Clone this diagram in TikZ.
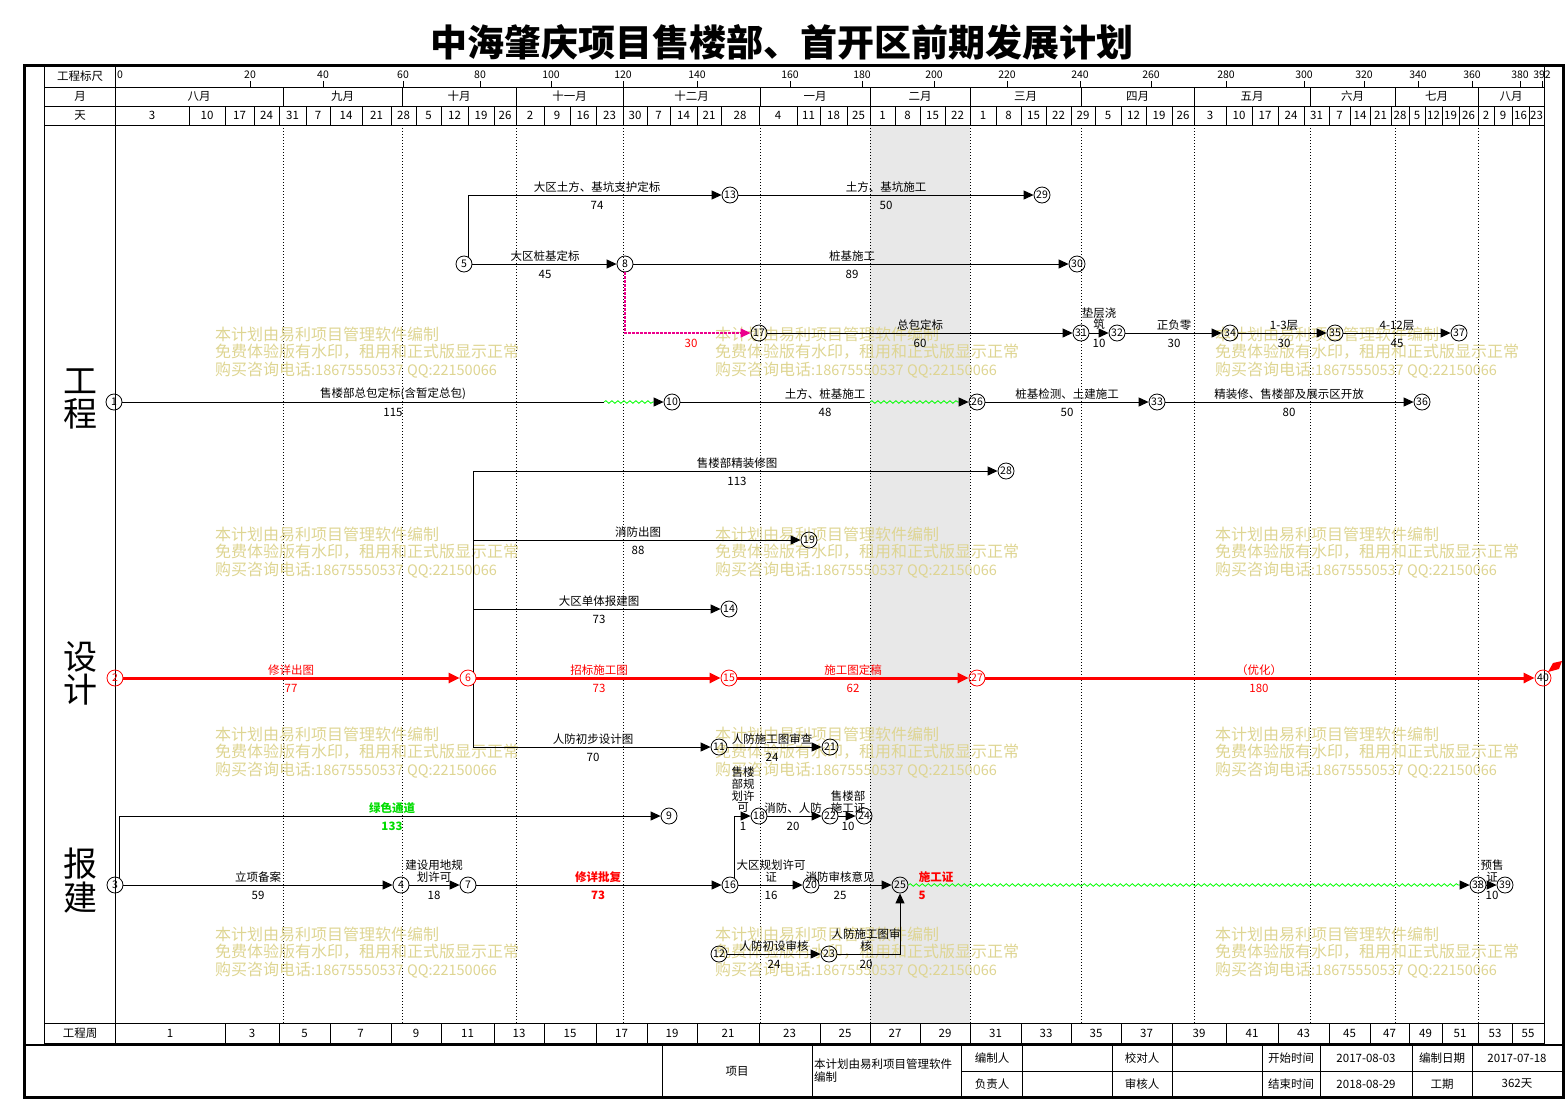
\documentclass[tikz,border=0pt]{standalone}
\usepackage{fontspec}
\setmainfont{Noto Sans CJK SC}
\usetikzlibrary{arrows.meta,decorations.pathmorphing}
\definecolor{wm}{RGB}{222,213,146}
\definecolor{grn}{RGB}{0,220,0}
\definecolor{wavyg}{RGB}{0,255,0}
\newcommand{\mylb}[5][]{\node[lbl,#1] (#2) at (#3,#4) {#5};}
\begin{document}
\begin{tikzpicture}[x=1pt,y=-1pt,
 lbl/.style={font=\fontsize{11.5}{12}\selectfont, inner sep=0pt},
 hd/.style={font=\fontsize{11.5}{12}\selectfont, inner sep=0pt},
 nd/.style={circle, draw, line width=0.8pt, minimum size=16pt, inner sep=0pt, font=\fontsize{10.5}{10.5}\selectfont},
 rnd/.style={nd, draw=red, text=red},
 arr/.style={line width=0.9pt, -{Triangle[length=10pt,width=9pt]}},
 rarr/.style={red, line width=3pt, -{Triangle[length=11pt,width=10pt]}},
 ln/.style={line width=0.9pt},
 wavy/.style={wavyg, line width=0.8pt, decorate, decoration={snake, amplitude=1.3pt, segment length=6pt}},
 dashmag/.style={magenta, line width=1.1pt, dash pattern=on 2.5pt off 1.5pt, -{Triangle[length=10pt,width=9pt]}},
 mline/.style={line width=0.6pt, dash pattern=on 1pt off 2pt},
 wmt/.style={text=wm, font=\fontsize{16}{18}\selectfont, anchor=west, inner sep=0pt},
 bigt/.style={font=\fontsize{34}{36}\selectfont, inner sep=0pt},
]
\useasboundingbox (0,0) rectangle (1566,1101);
% title
\node[font=\fontsize{37}{40}\selectfont\bfseries, inner sep=0pt] (title) at (782,42) {中海肇庆项目售楼部、首开区前期发展计划};
% shading
\fill[black!9] (870,125) rectangle (970,1023);
% month dotted lines
\foreach \x in {283,402,516,623,760,870,970,1081,1194,1310,1395,1478} {\draw[mline] (\x,125) -- (\x,1023);}
% watermarks
\foreach \x in {215,715,1215} {
 \foreach \y in {334,534,734,934} {
  \node[wmt] (wa\x-\y) at (\x,\y) {本计划由易利项目管理软件编制};
  \node[wmt] (wb\x-\y) at (\x,\y+18) {免费体验版有水印，租用和正式版显示正常};
  \node[wmt] (wc\x-\y) at (\x,\y+36) {购买咨询电话{\fontsize{14.5}{18}\selectfont :18675550537 QQ:22150066}};
 }
}
% table
\draw[line width=0.8pt] (44,65) rectangle (1544,1043);
\draw[line width=0.8pt] (44,87) -- (1544,87) (44,106) -- (1544,106) (44,125) -- (1544,125) (44,1023) -- (1544,1023);
\draw[line width=0.8pt] (115,65) -- (115,1043);
\node[hd] (h1) at (80,76) {工程标尺};
\node[hd] (h2) at (80,96.5) {月};
\node[hd] (h3) at (80,115.5) {天};
\node[hd] (h4) at (80,1033) {工程周};
% ticks
\foreach \v/\x in {20/250,40/323,60/403,80/480,100/551,120/623,140/697,160/790,180/862,200/934,220/1007,240/1080,260/1151,280/1226,300/1304,320/1364,340/1418,360/1472,380/1520,392/1542} {
 \draw[line width=0.7pt] (\x,81) -- (\x,87);
 \node[hd, font=\fontsize{10.5}{11}\selectfont] (tk\v) at (\x,75) {\v};
}
\node[hd, font=\fontsize{10.5}{11}\selectfont, anchor=west] (tk0) at (117,75) {0};
% months
\foreach \a/\b/\t [count=\i] in {115/283/八月,283/402/九月,402/516/十月,516/623/十一月,623/760/十二月,760/870/一月,870/970/二月,970/1081/三月,1081/1194/四月,1194/1310/五月,1310/1395/六月,1395/1478/七月,1478/1544/八月} {
 \draw[line width=0.8pt] (\b,87) -- (\b,106);
 \node[hd] (m\i) at ({(\a+\b)/2},96.5) {\t};
}
% weeks
\foreach \a/\b/\t [count=\i] in {115/189/3,189/225/10,225/254/17,254/279/24,279/306/31,306/330/7,330/362/14,362/391/21,391/416/28,416/441/5,441/468/12,468/494/19,494/516/26,516/544/2,544/570/9,570/596/16,596/623/23,623/647/30,647/670/7,670/697/14,697/721/21,721/759/28,759/797/4,797/820/11,820/847/18,847/870/25,870/895/1,895/920/8,920/945/15,945/970/22,970/996/1,996/1021/8,1021/1046/15,1046/1071/22,1071/1095/29,1095/1121/5,1121/1146/12,1146/1172/19,1172/1194/26,1194/1226/3,1226/1252/10,1252/1278/17,1278/1304/24,1304/1329/31,1329/1350/7,1350/1370/14,1370/1391/21,1391/1409/28,1409/1425/5,1425/1442/12,1442/1459/19,1459/1478/26,1478/1494/2,1494/1512/9,1512/1529/16,1529/1544/23} {
 \draw[line width=0.8pt] (\b,106) -- (\b,125);
 \node[hd] (w\i) at ({(\a+\b)/2},115.5) {\t};
}
% project weeks
\foreach \a/\b/\t in {115/225/1,225/279/3,279/330/5,330/391/7,391/441/9,441/494/11,494/544/13,544/596/15,596/647/17,647/697/19,697/759/21,759/820/23,820/870/25,870/920/27,920/970/29,970/1021/31,1021/1071/33,1071/1121/35,1121/1172/37,1172/1226/39,1226/1278/41,1278/1329/43,1329/1370/45,1370/1409/47,1409/1442/49,1442/1478/51,1478/1512/53,1512/1544/55} {
 \draw[line width=0.8pt] (\b,1023) -- (\b,1043);
 \node[hd] (pw\t) at ({(\a+\b)/2},1033) {\t};
}
% section labels
\node[bigt] (s1a) at (80,381) {工};
\node[bigt] (s1b) at (80,414) {程};
\node[bigt] (s2a) at (80,657) {设};
\node[bigt] (s2b) at (80,690) {计};
\node[bigt] (s3a) at (80,864) {报};
\node[bigt] (s3b) at (80,898) {建};
% nodes
\node[nd] (n1) at (114,402) {1};
\node[rnd] (n2) at (115,678) {2};
\node[nd] (n3) at (115,885) {3};
\node[nd] (n4) at (401,885) {4};
\node[nd] (n5) at (464,264) {5};
\node[rnd] (n6) at (468,678) {6};
\node[nd] (n7) at (468,885) {7};
\node[nd] (n8) at (625,264) {8};
\node[nd] (n9) at (669,816) {9};
\node[nd] (n10) at (672,402) {10};
\node[nd] (n11) at (719,747) {11};
\node[nd] (n12) at (719,954) {12};
\node[nd] (n13) at (730,195) {13};
\node[nd] (n14) at (729,609) {14};
\node[rnd] (n15) at (729,678) {15};
\node[nd] (n16) at (730,885) {16};
\node[nd] (n17) at (759,333) {17};
\node[nd] (n18) at (759,816) {18};
\node[nd] (n19) at (809,540) {19};
\node[nd] (n20) at (811,885) {20};
\node[nd] (n21) at (830,747) {21};
\node[nd] (n22) at (830,816) {22};
\node[nd] (n23) at (829,954) {23};
\node[nd] (n24) at (864,816) {24};
\node[nd] (n25) at (900,885) {25};
\node[nd] (n26) at (977,402) {26};
\node[rnd] (n27) at (977,678) {27};
\node[nd] (n28) at (1006,471) {28};
\node[nd] (n29) at (1042,195) {29};
\node[nd] (n30) at (1077,264) {30};
\node[nd] (n31) at (1081,333) {31};
\node[nd] (n32) at (1117,333) {32};
\node[nd] (n33) at (1157,402) {33};
\node[nd] (n34) at (1230,333) {34};
\node[nd] (n35) at (1335,333) {35};
\node[nd] (n36) at (1422,402) {36};
\node[nd] (n37) at (1459,333) {37};
\node[nd] (n38) at (1478,885) {38};
\node[nd] (n39) at (1505,885) {39};
\node[nd, draw=red] (n40) at (1543,678) {40};
\coordinate (f1a) at (604,402);
\coordinate (f1b) at (655,402);
\coordinate (f2a) at (870,402);
\coordinate (f2b) at (959,402);
\coordinate (f3b) at (1461,885);
% flag
\fill[red] (1548,672) -- (1553,663) -- (1562,661) -- (1559,669) -- cycle;
% engineering connectors
\draw[arr] (n5.55) |- (n13);
\draw[arr] (n13) -- (n29);
\draw[arr] (n5) -- (n8);
\draw[arr] (n8) -- (n30);
\draw[dashmag] (n8) |- (n17);
\draw[arr] (n17) -- (n31);
\draw[arr] (n31) -- (n32);
\draw[arr] (n32) -- (n34);
\draw[arr] (n34) -- (n35);
\draw[arr] (n35) -- (n37);
\draw[ln] (n1) -- (f1a);
\draw[wavy] (f1a) -- (f1b);
\draw[arr] (f1b) -- (n10);
\draw[ln] (n10) -- (f2a);
\draw[wavy] (f2a) -- (f2b);
\draw[arr] (f2b) -- (n26);
\draw[arr] (n26) -- (n33);
\draw[arr] (n33) -- (n36);
% design connectors
\draw[rarr] (n2) -- (n6);
\draw[rarr] (n6) -- (n15);
\draw[rarr] (n15) -- (n27);
\draw[rarr] (n27) -- (n40);
\draw[arr] (n6.50) |- (n28);
\draw[arr] (n6.50) |- (n19);
\draw[arr] (n6.50) |- (n14);
\draw[arr] (n6.-50) |- (n11);
\draw[arr] (n11) -- (n21);
% permit connectors
\draw[arr] (n3.56) |- (n9);
\draw[arr] (n3) -- (n4);
\draw[arr] (n4) -- (n7);
\draw[arr] (n7) -- (n16);
\draw[arr] (n16.60) |- (n18);
\draw[arr] (n18) -- (n22);
\draw[arr] (n22) -- (n24);
\draw[arr] (n16) -- (n20);
\draw[arr] (n20) -- (n25);
\draw[wavy] (n25) -- (f3b);
\draw[arr] (f3b) -- (n38);
\draw[arr] (n38) -- (n39);
\draw[arr] (n12) -- (n23);
\draw[arr] (n23) -| (n25);
% engineering labels
\mylb{e1}{597}{187}{大区土方、基坑支护定标}
\mylb{e1d}{597}{205}{74}
\mylb{e2}{886}{187}{土方、基坑施工}
\mylb{e2d}{886}{205}{50}
\mylb{e3}{545}{256}{大区桩基定标}
\mylb{e3d}{545}{274}{45}
\mylb{e4}{852}{256}{桩基施工}
\mylb{e4d}{852}{274}{89}
\mylb[text=red]{e5d}{691}{343}{30}
\mylb{e6}{920}{325}{总包定标}
\mylb{e6d}{920}{343}{60}
\mylb{e7a}{1099}{313}{垫层浇}
\mylb{e7b}{1099}{324}{筑}
\mylb{e7d}{1099}{343}{10}
\mylb{e8}{1174}{325}{正负零}
\mylb{e8d}{1174}{343}{30}
\mylb{e9}{1284}{325}{1-3层}
\mylb{e9d}{1284}{343}{30}
\mylb{e10}{1397}{325}{4-12层}
\mylb{e10d}{1397}{343}{45}
\mylb{e11}{393}{394}{售楼部总包定标(含暂定总包)}
\mylb{e11d}{393}{412}{115}
\mylb{e12}{825}{394}{土方、桩基施工}
\mylb{e12d}{825}{412}{48}
\mylb{e13}{1067}{394}{桩基检测、土建施工}
\mylb{e13d}{1067}{412}{50}
\mylb{e14}{1289}{394}{精装修、售楼部及展示区开放}
\mylb{e14d}{1289}{412}{80}
% design labels
\mylb{d1}{737}{463}{售楼部精装修图}
\mylb{d1d}{737}{481}{113}
\mylb{d2}{638}{532}{消防出图}
\mylb{d2d}{638}{550}{88}
\mylb{d3}{599}{601}{大区单体报建图}
\mylb{d3d}{599}{619}{73}
\mylb[text=red]{d4}{291}{670}{修详出图}
\mylb[text=red]{d4d}{291}{688}{77}
\mylb[text=red]{d5}{599}{670}{招标施工图}
\mylb[text=red]{d5d}{599}{688}{73}
\mylb[text=red]{d6}{853}{670}{施工图定稿}
\mylb[text=red]{d6d}{853}{688}{62}
\mylb[text=red]{d7}{1259}{670}{（优化）}
\mylb[text=red]{d7d}{1259}{688}{180}
\mylb{d8}{593}{739}{人防初步设计图}
\mylb{d8d}{593}{757}{70}
\mylb{d9}{772}{739}{人防施工图审查}
\mylb{d9d}{772}{757}{24}
% permit labels
\mylb[text=grn,font=\fontsize{11.5}{12}\selectfont\bfseries]{b1}{392}{808}{绿色通道}
\mylb[text=grn,font=\fontsize{11.5}{12}\selectfont\bfseries]{b1d}{392}{826}{133}
\mylb{b2}{258}{877}{立项备案}
\mylb{b2d}{258}{895}{59}
\mylb{b3a}{434}{865}{建设用地规}
\mylb{b3b}{434}{877}{划许可}
\mylb{b3d}{434}{895}{18}
\mylb[text=red,font=\fontsize{11.5}{12}\selectfont\bfseries]{b4}{598}{877}{修详批复}
\mylb[text=red,font=\fontsize{11.5}{12}\selectfont\bfseries]{b4d}{598}{895}{73}
\mylb{b5a}{743}{772}{售楼}
\mylb{b5b}{743}{784}{部规}
\mylb{b5c}{743}{796}{划许}
\mylb{b5e}{743}{808}{可}
\mylb{b5d}{743}{826}{1}
\mylb{b6}{793}{808}{消防、人防}
\mylb{b6d}{793}{826}{20}
\mylb{b7a}{848}{796}{售楼部}
\mylb{b7b}{848}{808}{施工证}
\mylb{b7d}{848}{826}{10}
\mylb{b8a}{771}{865}{大区规划许可}
\mylb{b8b}{771}{877}{证}
\mylb{b8d}{771}{895}{16}
\mylb{b9}{840}{877}{消防审核意见}
\mylb{b9d}{840}{895}{25}
\mylb[text=red,font=\fontsize{11.5}{12}\selectfont\bfseries]{b10}{936}{877}{施工证}
\mylb[text=red,font=\fontsize{11.5}{12}\selectfont\bfseries]{b10d}{922}{895}{5}
\mylb{b11a}{1492}{865}{预售}
\mylb{b11b}{1492}{877}{证}
\mylb{b11d}{1492}{895}{10}
\mylb{b12}{774}{946}{人防初设审核}
\mylb{b12d}{774}{964}{24}
\mylb{b13a}{866}{934}{人防施工图审}
\mylb{b13b}{866}{946}{核}
\mylb{b13d}{866}{964}{20}
% bottom block
\draw[line width=2.5pt] (24,1045) -- (1563,1045);
\foreach \x in {662,812,961,1022,1112,1172,1262,1320,1412,1472} {\draw[line width=1pt] (\x,1045) -- (\x,1097);}
\draw[line width=1pt] (961,1071) -- (1563,1071);
\node[hd] (q1) at (737,1071) {项目};
\node[hd, anchor=west] (q2) at (814,1064) {本计划由易利项目管理软件};
\node[hd, anchor=west] (q3) at (814,1077) {编制};
\node[hd] (q4) at (992,1058) {编制人};
\node[hd] (q5) at (992,1084) {负责人};
\node[hd] (q6) at (1142,1058) {校对人};
\node[hd] (q7) at (1142,1084) {审核人};
\node[hd] (q8) at (1291,1058) {开始时间};
\node[hd] (q9) at (1291,1084) {结束时间};
\node[hd] (q10) at (1366,1058) {2017-08-03};
\node[hd] (q11) at (1366,1084) {2018-08-29};
\node[hd] (q12) at (1442,1058) {编制日期};
\node[hd] (q13) at (1442,1084) {工期};
\node[hd] (q14) at (1517,1058) {2017-07-18};
\node[hd] (q15) at (1517,1084) {362天};
% frame
\draw[line width=3pt] (24,65) rectangle (1563,1097);
\end{tikzpicture}
\end{document}
